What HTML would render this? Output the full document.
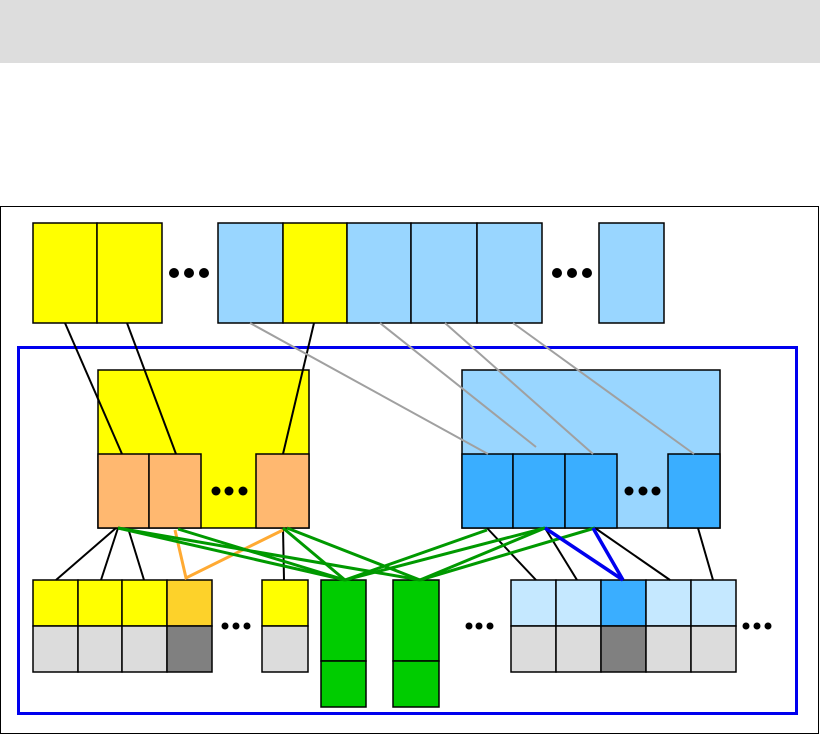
<!DOCTYPE html>
<html><head><style>body{margin:0;background:#fff}</style></head><body>
<svg width="820" height="735" xmlns="http://www.w3.org/2000/svg" style="display:block">
<rect x="0" y="0" width="820" height="63" fill="#dddddd"/>
<rect x="0.5" y="206.5" width="818" height="527" fill="none" stroke="#000" stroke-width="1"/>
<g stroke="#000" stroke-width="1.5">
<rect x="33" y="223" width="64" height="100" fill="#ffff00"/>
<rect x="97" y="223" width="65" height="100" fill="#ffff00"/>
<rect x="218" y="223" width="65" height="100" fill="#99d6ff"/>
<rect x="283" y="223" width="64" height="100" fill="#ffff00"/>
<rect x="347" y="223" width="64" height="100" fill="#99d6ff"/>
<rect x="411" y="223" width="66" height="100" fill="#99d6ff"/>
<rect x="477" y="223" width="65" height="100" fill="#99d6ff"/>
<rect x="599" y="223" width="65" height="100" fill="#99d6ff"/>
</g>
<g fill="#000"><circle cx="174" cy="273" r="5"/><circle cx="189" cy="273" r="5"/><circle cx="204" cy="273" r="5"/>
<circle cx="557" cy="273" r="5"/><circle cx="572" cy="273" r="5"/><circle cx="587" cy="273" r="5"/></g>
<rect x="18.5" y="347.5" width="778" height="366" fill="none" stroke="#0000ee" stroke-width="3"/>
<g stroke="#000" stroke-width="1.5">
<rect x="98" y="370" width="211" height="158" fill="#ffff00"/>
<rect x="98" y="454" width="51" height="74" fill="#ffb870"/>
<rect x="149" y="454" width="52" height="74" fill="#ffb870"/>
<rect x="256" y="454" width="53" height="74" fill="#ffb870"/>
<rect x="462" y="370" width="258" height="158" fill="#99d6ff"/>
<rect x="462" y="454" width="51" height="74" fill="#3aaeff"/>
<rect x="513" y="454" width="52" height="74" fill="#3aaeff"/>
<rect x="565" y="454" width="52" height="74" fill="#3aaeff"/>
<rect x="668" y="454" width="52" height="74" fill="#3aaeff"/>
</g>
<g fill="#000"><circle cx="216" cy="491" r="4.5"/><circle cx="229" cy="491" r="4.5"/><circle cx="243" cy="491" r="4.5"/>
<circle cx="629" cy="491" r="4.5"/><circle cx="643" cy="491" r="4.5"/><circle cx="656" cy="491" r="4.5"/></g>
<g stroke="#000" stroke-width="1.5">
<rect x="33" y="580" width="45" height="46" fill="#ffff00"/><rect x="33" y="626" width="45" height="46" fill="#dcdcdc"/>
<rect x="78" y="580" width="44" height="46" fill="#ffff00"/><rect x="78" y="626" width="44" height="46" fill="#dcdcdc"/>
<rect x="122" y="580" width="45" height="46" fill="#ffff00"/><rect x="122" y="626" width="45" height="46" fill="#dcdcdc"/>
<rect x="167" y="580" width="45" height="46" fill="#fdd22a"/><rect x="167" y="626" width="45" height="46" fill="#808080"/>
<rect x="262" y="580" width="46" height="46" fill="#ffff00"/><rect x="262" y="626" width="46" height="46" fill="#dcdcdc"/>
<rect x="321" y="580" width="45" height="81" fill="#00cc00"/><rect x="321" y="661" width="45" height="46" fill="#00cc00"/>
<rect x="393" y="580" width="46" height="81" fill="#00cc00"/><rect x="393" y="661" width="46" height="46" fill="#00cc00"/>
<rect x="511" y="580" width="45" height="46" fill="#c5e8ff"/><rect x="511" y="626" width="45" height="46" fill="#dcdcdc"/>
<rect x="556" y="580" width="45" height="46" fill="#c5e8ff"/><rect x="556" y="626" width="45" height="46" fill="#dcdcdc"/>
<rect x="601" y="580" width="45" height="46" fill="#3aaeff"/><rect x="601" y="626" width="45" height="46" fill="#808080"/>
<rect x="646" y="580" width="45" height="46" fill="#c5e8ff"/><rect x="646" y="626" width="45" height="46" fill="#dcdcdc"/>
<rect x="691" y="580" width="45" height="46" fill="#c5e8ff"/><rect x="691" y="626" width="45" height="46" fill="#dcdcdc"/>
</g>
<g fill="#000"><circle cx="225" cy="626" r="3.5"/><circle cx="236" cy="626" r="3.5"/><circle cx="247" cy="626" r="3.5"/>
<circle cx="469" cy="626" r="3.5"/><circle cx="479" cy="626" r="3.5"/><circle cx="490" cy="626" r="3.5"/>
<circle cx="746" cy="626" r="3.5"/><circle cx="757" cy="626" r="3.5"/><circle cx="768" cy="626" r="3.5"/></g>
<g stroke="#000" stroke-width="2">
<line x1="65" y1="323" x2="122" y2="454"/><line x1="127" y1="323" x2="176" y2="454"/><line x1="314" y1="323" x2="283" y2="454"/>
<line x1="116" y1="528" x2="56" y2="580"/><line x1="118" y1="528" x2="101" y2="580"/><line x1="128" y1="528" x2="144" y2="580"/>
<line x1="283" y1="528" x2="284" y2="580"/>
<line x1="487" y1="528" x2="536" y2="580"/><line x1="545" y1="528" x2="577" y2="580"/><line x1="595" y1="528" x2="670" y2="580"/><line x1="698" y1="528" x2="713" y2="580"/>
</g>
<g stroke="#a0a0a0" stroke-width="2">
<line x1="250" y1="323" x2="488" y2="454"/><line x1="380" y1="323" x2="536" y2="447"/><line x1="445" y1="323" x2="593" y2="454"/><line x1="513" y1="323" x2="694" y2="454"/>
</g>
<polyline points="175,530 186,578 283,530" fill="none" stroke="#ffaa33" stroke-width="3"/>
<g stroke="#009900" stroke-width="3">
<line x1="118" y1="528" x2="345" y2="580"/><line x1="118" y1="528" x2="420" y2="580"/>
<line x1="178" y1="529" x2="345" y2="580"/>
<line x1="283" y1="528" x2="345" y2="580"/><line x1="287" y1="528" x2="420" y2="580"/>
<line x1="487" y1="530" x2="345" y2="580"/><line x1="545" y1="528" x2="345" y2="580"/>
<line x1="545" y1="528" x2="420" y2="580"/><line x1="595" y1="528" x2="420" y2="580"/>
</g>
<g stroke="#0000ee" stroke-width="3.5">
<line x1="545" y1="528" x2="623" y2="580"/><line x1="593" y1="528" x2="623" y2="580"/>
</g>
</svg>
</body></html>
